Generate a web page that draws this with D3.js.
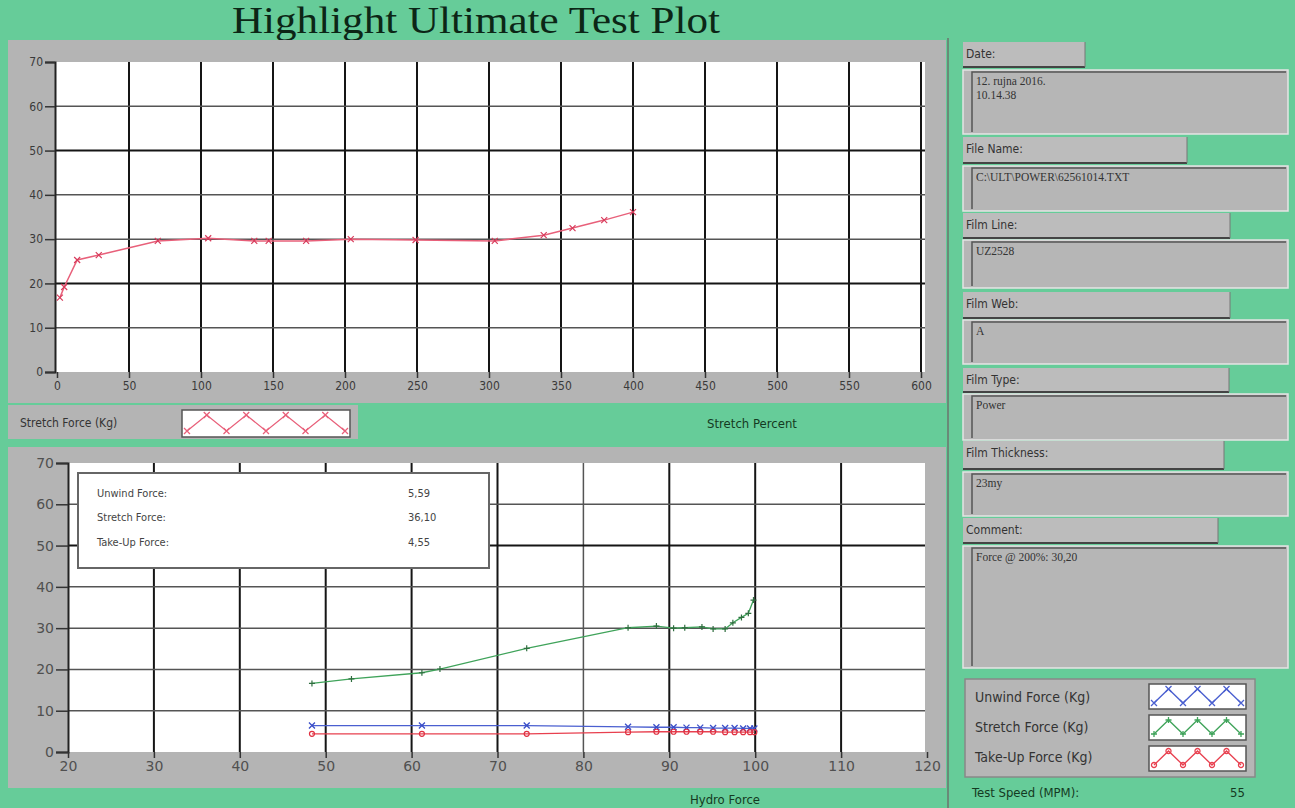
<!DOCTYPE html>
<html>
<head>
<meta charset="utf-8">
<script src="https://cdn.jsdelivr.net/npm/d3@7"></script>
<style>
body { margin:0; background:#66cc99; }
svg { display:block; }
</style>
</head>
<body>
<svg id="chart"></svg>
<script>
// stretch force vs stretch percent (top chart)
var stretchPct = [2, 5, 14, 29, 70, 105, 137, 147, 173, 204, 249, 304, 338, 358, 380, 400];
var stretchForceTop = [16.8, 19.2, 25.3, 26.4, 29.6, 30.2, 29.6, 29.6, 29.6, 30.0, 29.8, 29.6, 30.9, 32.5, 34.3, 36.1];

// forces vs hydro force (bottom chart)
var hydroStretch = [48.4, 53, 61.2, 63.3, 73.4, 85.2, 88.5, 90.5, 91.8, 93.8, 95.1, 96.5, 97.4, 98.4, 99.2, 99.8];
var stretchForceBottom = [16.6, 17.7, 19.2, 20.1, 25.1, 30.1, 30.5, 30.0, 30.1, 30.3, 29.8, 29.8, 31.3, 32.6, 33.6, 36.8];
var hydroOther = [48.4, 61.2, 73.4, 85.2, 88.5, 90.5, 92.0, 93.6, 95.1, 96.5, 97.6, 98.6, 99.4, 99.9];
var unwindForce = [6.4, 6.4, 6.4, 6.1, 6.0, 6.0, 5.9, 5.9, 5.8, 5.8, 5.8, 5.7, 5.7, 5.7];
var takeUpForce = [4.4, 4.4, 4.4, 4.8, 4.9, 4.9, 4.9, 4.9, 4.9, 4.8, 4.8, 4.8, 4.8, 4.8];

var topXTicks = [0, 50, 100, 150, 200, 250, 300, 350, 400, 450, 500, 550, 600];
var bottomXTicks = [20, 30, 40, 50, 60, 70, 80, 90, 100, 110, 120];
var yTicks = [0, 10, 20, 30, 40, 50, 60, 70];

var infoLabels = ["Unwind Force:", "Stretch Force:", "Take-Up Force:"];
var infoValues = ["5,59", "36,10", "4,55"];

var fieldNames = ["Date:", "File Name:", "Film Line:", "Film Web:", "Film Type:", "Film Thickness:", "Comment:"];
var fieldValues = [["12. rujna 2016.", "10.14.38"], ["C:\\ULT\\POWER\\62561014.TXT"], ["UZ2528"], ["A"], ["Power"], ["23my"], ["Force @ 200%:  30,20"]];

var legendNames = ["Unwind Force (Kg)", "Stretch Force (Kg)", "Take-Up Force (Kg)"];
var legendColors = ["#4a5fd0", "#3fa35a", "#e8404f"];

var screen = {width:1295, height:808};
var svg = d3.select("#chart").attr("width", screen.width).attr("height", screen.height);

svg.append("rect").attr("width", screen.width).attr("height", screen.height).attr("fill", "#66cc99");

svg.append("text")
    .text("Highlight Ultimate Test Plot")
    .attr("x", 232).attr("y", 33)
    .attr("textLength", 488).attr("lengthAdjust", "spacingAndGlyphs")
    .attr("font-family", "Liberation Serif, serif")
    .attr("font-size", 38)
    .attr("fill", "#0c2616");

// x marker path
var xMark = function(s) {
    return "M" + (-s) + "," + (-s) + "L" + s + "," + s + "M" + (-s) + "," + s + "L" + s + "," + (-s);
};

//----- top chart -----
svg.append("rect").attr("x", 8).attr("y", 40).attr("width", 938).attr("height", 363).attr("fill", "#b4b4b4");

var topPlot = {left:55, top:62, right:925, bottom:372};
var xTop = d3.scaleLinear().domain([0, 600]).range([57, 921]);
var yTop = d3.scaleLinear().domain([0, 70]).range([372, 62]);

svg.append("rect").attr("x", topPlot.left).attr("y", topPlot.top)
    .attr("width", topPlot.right - topPlot.left).attr("height", topPlot.bottom - topPlot.top)
    .attr("fill", "#ffffff");

var topGrid = svg.append("g");
topGrid.selectAll("line.v").data(topXTicks.filter(function(d){return d > 0;}))
    .enter().append("line")
    .attr("x1", function(d){return xTop(d);}).attr("x2", function(d){return xTop(d);})
    .attr("y1", topPlot.top).attr("y2", topPlot.bottom)
    .attr("stroke", "#151515").attr("stroke-width", 2);
topGrid.selectAll("line.h").data(yTicks.filter(function(d){return d > 0 && d < 70;}))
    .enter().append("line")
    .attr("x1", topPlot.left).attr("x2", topPlot.right)
    .attr("y1", function(d){return yTop(d);}).attr("y2", function(d){return yTop(d);})
    .attr("stroke", function(d){return (d == 20 || d == 50) ? "#151515" : "#555";})
    .attr("stroke-width", function(d){return (d == 20 || d == 50) ? 2 : 1.5;});

var topYAxis = svg.append("g").attr("transform", "translate(" + topPlot.left + ",0)")
    .call(d3.axisLeft(yTop).tickValues(yTicks).tickSize(10).tickPadding(2));
var topXAxis = svg.append("g").attr("transform", "translate(0," + topPlot.bottom + ")")
    .call(d3.axisBottom(xTop).tickValues(topXTicks).tickSize(6).tickPadding(3));
[topYAxis, topXAxis].forEach(function(a) {
    a.select(".domain").attr("stroke", "#222").attr("stroke-width", 2);
    a.selectAll(".tick line").attr("stroke", "#333").attr("stroke-width", 1.5);
    a.selectAll(".tick text").attr("font-family", "DejaVu Sans Condensed, sans-serif")
        .attr("font-size", 12).attr("fill", "#3a3a3a");
});
topXAxis.select(".domain").remove();

var topData = stretchPct.map(function(d, i){ return {x:d, y:stretchForceTop[i]}; });
var topLine = d3.line().x(function(d){return xTop(d.x);}).y(function(d){return yTop(d.y);});
svg.append("path").datum(topData).attr("d", topLine)
    .attr("fill", "none").attr("stroke", "#e8607a").attr("stroke-width", 1.5);
svg.append("g").selectAll("path").data(topData).enter().append("path")
    .attr("d", xMark(3))
    .attr("transform", function(d){return "translate(" + xTop(d.x) + "," + yTop(d.y) + ")";})
    .attr("stroke", "#d83c5c").attr("stroke-width", 1.2).attr("fill", "none");

// strip under the top chart
svg.append("rect").attr("x", 8).attr("y", 405).attr("width", 350).attr("height", 34).attr("fill", "#b4b4b4");
svg.append("text").text("Stretch Force (Kg)")
    .attr("x", 20).attr("y", 427)
    .attr("font-family", "DejaVu Sans Condensed, sans-serif").attr("font-size", 12).attr("fill", "#333");
svg.append("text").text("Stretch Percent")
    .attr("x", 752).attr("y", 428).attr("text-anchor", "middle")
    .attr("font-family", "DejaVu Sans Condensed, sans-serif").attr("font-size", 13).attr("fill", "#143a22");

// zigzag swatch for legends
var drawSwatch = function(x, y, w, h, n, color, marker) {
    svg.append("rect").attr("x", x).attr("y", y).attr("width", w).attr("height", h)
        .attr("fill", "#ffffff").attr("stroke", "#555").attr("stroke-width", 1.5);
    var pts = d3.range(n + 1).map(function(i){ return [x + 5 + i * (w - 10) / n, (i % 2 == 0) ? y + h - 6 : y + 5]; });
    svg.append("path").datum(pts).attr("d", d3.line())
        .attr("fill", "none").attr("stroke", color).attr("stroke-width", 1.3);
    svg.append("g").selectAll("path").data(pts).enter().append("path")
        .attr("d", marker)
        .attr("transform", function(d){return "translate(" + d[0] + "," + d[1] + ")";})
        .attr("stroke", color).attr("stroke-width", 1.3).attr("fill", "none");
};
drawSwatch(182, 410, 168, 27, 8, "#e8607a", xMark(3));

//----- bottom chart -----
svg.append("rect").attr("x", 8).attr("y", 447).attr("width", 938).attr("height", 341).attr("fill", "#b4b4b4");

var botPlot = {left:68, top:463, right:925, bottom:752};
var xBot = d3.scaleLinear().domain([20, 120]).range([68, 927]);
var yBot = d3.scaleLinear().domain([0, 70]).range([752, 463]);

svg.append("rect").attr("x", botPlot.left).attr("y", botPlot.top)
    .attr("width", botPlot.right - botPlot.left).attr("height", botPlot.bottom - botPlot.top)
    .attr("fill", "#ffffff");

var botGrid = svg.append("g");
botGrid.selectAll("line.v").data(bottomXTicks.filter(function(d){return d > 20 && d < 120;}))
    .enter().append("line")
    .attr("x1", function(d){return xBot(d);}).attr("x2", function(d){return xBot(d);})
    .attr("y1", botPlot.top).attr("y2", botPlot.bottom)
    .attr("stroke", function(d){return d == 80 ? "#555" : "#151515";})
    .attr("stroke-width", function(d){return d == 80 ? 1.5 : 2;});
botGrid.selectAll("line.h").data(yTicks.filter(function(d){return d > 0 && d < 70;}))
    .enter().append("line")
    .attr("x1", botPlot.left).attr("x2", botPlot.right)
    .attr("y1", function(d){return yBot(d);}).attr("y2", function(d){return yBot(d);})
    .attr("stroke", function(d){return d == 50 ? "#151515" : "#555";})
    .attr("stroke-width", function(d){return d == 50 ? 2 : 1.5;});

var botYAxis = svg.append("g").attr("transform", "translate(" + botPlot.left + ",0)")
    .call(d3.axisLeft(yBot).tickValues(yTicks).tickSize(12).tickPadding(2));
var botXAxis = svg.append("g").attr("transform", "translate(0," + botPlot.bottom + ")")
    .call(d3.axisBottom(xBot).tickValues(bottomXTicks).tickSize(6).tickPadding(3));
[botYAxis, botXAxis].forEach(function(a) {
    a.select(".domain").attr("stroke", "#222").attr("stroke-width", 2);
    a.selectAll(".tick line").attr("stroke", "#333").attr("stroke-width", 1.5);
    a.selectAll(".tick text").attr("font-family", "DejaVu Sans, sans-serif")
        .attr("font-size", 14).attr("fill", "#505050");
});
botXAxis.select(".domain").remove();

// info box
var info = svg.append("g");
info.append("rect").attr("x", 78).attr("y", 473).attr("width", 411).attr("height", 95)
    .attr("fill", "#ffffff").attr("stroke", "#666").attr("stroke-width", 2);
info.selectAll("text.lab").data(infoLabels).enter().append("text")
    .text(function(d){return d;})
    .attr("x", 97).attr("y", function(d, i){return [497, 521, 546][i];})
    .attr("font-family", "DejaVu Sans Condensed, sans-serif").attr("font-size", 11).attr("fill", "#444");
info.selectAll("text.val").data(infoValues).enter().append("text")
    .text(function(d){return d;})
    .attr("x", 408).attr("y", function(d, i){return [497, 521, 546][i];})
    .attr("font-family", "DejaVu Sans Condensed, sans-serif").attr("font-size", 11).attr("fill", "#444");

var lineBot = d3.line().x(function(d){return xBot(d.x);}).y(function(d){return yBot(d.y);});
var greenData = hydroStretch.map(function(d, i){return {x:d, y:stretchForceBottom[i]};});
var blueData = hydroOther.map(function(d, i){return {x:d, y:unwindForce[i]};});
var redData = hydroOther.map(function(d, i){return {x:d, y:takeUpForce[i]};});

svg.append("path").datum(greenData).attr("d", lineBot)
    .attr("fill", "none").attr("stroke", "#3fa35a").attr("stroke-width", 1.3);
svg.append("g").selectAll("path").data(greenData).enter().append("path")
    .attr("d", "M-3,0L3,0M0,-3L0,3")
    .attr("transform", function(d){return "translate(" + xBot(d.x) + "," + yBot(d.y) + ")";})
    .attr("stroke", "#2f6e3f").attr("stroke-width", 1.2);

svg.append("path").datum(blueData).attr("d", lineBot)
    .attr("fill", "none").attr("stroke", "#4a5fd0").attr("stroke-width", 1.3);
svg.append("g").selectAll("path").data(blueData).enter().append("path")
    .attr("d", xMark(3))
    .attr("transform", function(d){return "translate(" + xBot(d.x) + "," + yBot(d.y) + ")";})
    .attr("stroke", "#3a4ec8").attr("stroke-width", 1.3).attr("fill", "none");

svg.append("path").datum(redData).attr("d", lineBot)
    .attr("fill", "none").attr("stroke", "#e8404f").attr("stroke-width", 1.3);
svg.append("g").selectAll("circle").data(redData).enter().append("circle")
    .attr("cx", function(d){return xBot(d.x);}).attr("cy", function(d){return yBot(d.y);})
    .attr("r", 2.5).attr("stroke", "#e03040").attr("stroke-width", 1.2).attr("fill", "none");

svg.append("text").text("Hydro Force")
    .attr("x", 725).attr("y", 804).attr("text-anchor", "middle")
    .attr("font-family", "DejaVu Sans Condensed, sans-serif").attr("font-size", 13).attr("fill", "#143a22");

// divider line right of the plots
svg.append("line").attr("x1", 948).attr("x2", 948).attr("y1", 38).attr("y2", 808)
    .attr("stroke", "#6a8a78").attr("stroke-width", 2);

//----- right panel fields -----
var labelBoxes = [
    {y:42, h:25, w:122}, {y:137, h:26, w:224}, {y:213, h:25, w:267},
    {y:292, h:26, w:267}, {y:368, h:24, w:266}, {y:441, h:28, w:261}, {y:518, h:25, w:255}
];
var valueBoxes = [
    {y:70, h:64}, {y:166, h:45}, {y:240, h:48}, {y:320, h:44}, {y:394, h:46}, {y:472, h:44}, {y:546, h:122}
];
var panel = svg.append("g");
labelBoxes.forEach(function(b, i) {
    panel.append("rect").attr("x", 963).attr("y", b.y).attr("width", b.w).attr("height", b.h).attr("fill", "#bcbcbc");
    panel.append("line").attr("x1", 963).attr("x2", 963 + b.w).attr("y1", b.y + b.h).attr("y2", b.y + b.h)
        .attr("stroke", "#444").attr("stroke-width", 2);
    panel.append("line").attr("x1", 963 + b.w).attr("x2", 963 + b.w).attr("y1", b.y).attr("y2", b.y + b.h)
        .attr("stroke", "#777").attr("stroke-width", 1);
    panel.append("text").text(fieldNames[i])
        .attr("x", 966).attr("y", b.y + 16)
        .attr("font-family", "DejaVu Sans Condensed, sans-serif").attr("font-size", 12).attr("fill", "#333");
    var v = valueBoxes[i];
    panel.append("rect").attr("x", 963).attr("y", v.y).attr("width", 325).attr("height", v.h)
        .attr("fill", "#b6b6b6").attr("stroke", "#e4e4e4").attr("stroke-width", 1.5);
    panel.append("path").attr("d", "M972," + (v.y + v.h - 2) + "L972," + (v.y + 2) + "L1286," + (v.y + 2))
        .attr("fill", "none").attr("stroke", "#555").attr("stroke-width", 1.5);
    panel.selectAll(null).data(fieldValues[i]).enter().append("text")
        .text(function(d){return d;})
        .attr("x", 976).attr("y", function(d, j){return v.y + 15 + j * 14;})
        .attr("font-family", "Liberation Serif, serif").attr("font-size", 11.5).attr("fill", "#333");
});

// legend
svg.append("rect").attr("x", 965).attr("y", 679).attr("width", 290).attr("height", 98)
    .attr("fill", "#b6b6b6").attr("stroke", "#888").attr("stroke-width", 1.5);
var legendMarks = [xMark(3), "M-3,0L3,0M0,-3L0,3", d3.symbol().type(d3.symbolCircle).size(20)()];
legendNames.forEach(function(name, i) {
    svg.append("text").text(name)
        .attr("x", 975).attr("y", 702 + i * 30)
        .attr("font-family", "DejaVu Sans Condensed, sans-serif").attr("font-size", 14).attr("fill", "#333");
    drawSwatch(1149, 684 + i * 31, 97, 25, 6, legendColors[i], legendMarks[i]);
});

svg.append("text").text("Test Speed (MPM):")
    .attr("x", 972).attr("y", 797)
    .attr("font-family", "DejaVu Sans Condensed, sans-serif").attr("font-size", 13).attr("fill", "#143a22");
svg.append("text").text("55")
    .attr("x", 1245).attr("y", 797).attr("text-anchor", "end")
    .attr("font-family", "DejaVu Sans Condensed, sans-serif").attr("font-size", 13).attr("fill", "#143a22");
</script>
</body>
</html>
